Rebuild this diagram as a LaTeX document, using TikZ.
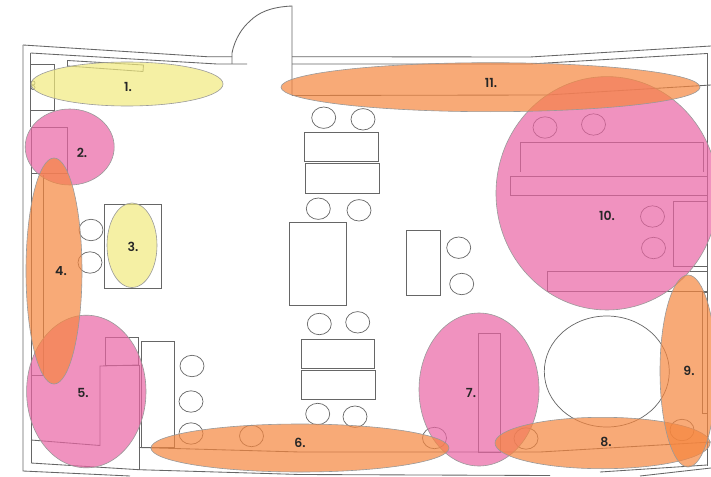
\documentclass[tikz,border=0pt]{standalone}
\usepackage{fontspec}
\setmainfont{Poppins SemiBold}
\definecolor{zyellow}{HTML}{F1EA7E}
\definecolor{zorange}{HTML}{F6863E}
\definecolor{zpink}{HTML}{EA65A4}
\definecolor{zline}{HTML}{666666}
\definecolor{zedge}{HTML}{999999}
\tikzset{
 x=1pt,y=-1pt,
 wall/.style={draw=zline,line width=0.85pt},
 seat/.style={draw=zline,line width=0.7pt,fill=none},
 furn/.style={draw=zline,line width=0.85pt,fill=none},
 zone/.style={draw=zedge,line width=0.6pt,fill opacity=0.7},
 zy/.style={zone,fill=zyellow},
 zo/.style={zone,fill=zorange},
 zp/.style={zone,fill=zpink},
 zlabel/.style={font=\fontsize{12.5}{14}\selectfont,text=black!85,inner sep=0pt}
}
\newcommand{\seatat}[2]{\draw[seat] (#1,#2) ellipse [x radius=12,y radius=10.7];}
\begin{document}
\begin{tikzpicture}
\useasboundingbox (0,0) rectangle (711,476);
\fill[white] (0,0) rectangle (711,476);
% door
\draw[wall] (232,64) -- (232,53) .. controls (235,38) and (243,27) .. (250,21) .. controls (258,13) and (270,7) .. (292,6) -- (292,95.5);
% outer and inner walls
\draw[wall] (23,45) -- (207,56.7) -- (232,56.7);
\draw[wall] (30.5,53) -- (217,64) -- (247,64);
\draw[wall] (292,56.7) -- (530,57) -- (711,46);
\draw[wall] (292,64) -- (530,64) -- (707,53.5);
\draw[wall] (292,95.5) -- (547,95) -- (711,85);
\draw[wall] (707,53.5) -- (707,466);
\draw[wall] (23,45) -- (23,471) -- (130,476);
\draw[wall] (31,463) -- (139,469.7) -- (300,474.5) -- (550,475.5);
\draw[wall] (600,472) -- (707,465);
\draw[wall] (640,476) -- (711,468);
\draw[wall] (139,447.5) -- (300,452) -- (540,452) -- (711,442);
% left furniture
\draw[wall] (30.5,53) -- (30.5,127);
\draw[wall] (30,64.5) rectangle (54,110.5);
\draw[wall] (67.5,67) -- (67.5,60.5) -- (143.5,65) -- (143,71.5) -- (67.5,66);
\draw[seat] (33,83) circle (2); \draw[seat] (33,87.5) circle (2);
\draw[wall] (31,127) rectangle (67,173.5);
\draw[wall] (31,173.5) -- (31,463);
\draw[wall] (43,175) -- (43,375) -- (31,375);
\draw[wall] (31,440) -- (100,445.5) -- (100,366) -- (139,365);
\draw[wall] (105,337) rectangle (138,365);
\draw[wall] (139,365) -- (139,469.7);
\draw[wall] (141,341) rectangle (174,447);
% room 10
\draw[furn] (520,172) -- (520,142) -- (703,142) -- (703,172);
\draw[furn] (510,176) rectangle (707,195);
\draw[furn] (673,201) rectangle (707,266);
\draw[furn] (547,291.7) -- (547,271.7) -- (707,271.7);
\draw[furn] (547,291.7) -- (707,291.7);
% right
\draw[furn] (702.7,292) rectangle (707,413);
\draw[seat] (606.8,371.5) ellipse [x radius=62.5,y radius=55.5];
\draw[furn] (478.5,333) rectangle (500.5,452);
% centre
\draw[furn] (304.7,132) rectangle (378.7,161.7);
\draw[furn] (305.3,163.5) rectangle (379,193);
\draw[furn] (289,222) rectangle (346.5,305.5);
\draw[furn] (406.5,230) rectangle (440.5,295);
\draw[furn] (301,339) rectangle (374.5,368);
\draw[furn] (301.5,370) rectangle (375,399.5);
\draw[furn] (104.5,204.5) rectangle (161.5,288);
\seatat{323.7}{117.7}\seatat{363}{119.3}
\seatat{318.3}{208.7}\seatat{359}{210.3}
\seatat{458.7}{247.7}\seatat{461.7}{284}
\seatat{319.3}{324}\seatat{357.7}{322.3}
\seatat{317.7}{414}\seatat{355}{416.7}
\seatat{91}{230}\seatat{90}{262.5}
\seatat{192}{366}\seatat{191}{401.5}\seatat{191}{433.5}
\seatat{251.5}{436}\seatat{434.5}{438}\seatat{526}{438.5}
\seatat{682}{430}
\seatat{545}{127.5}\seatat{593.5}{124.5}
\seatat{652.5}{216.5}\seatat{653.5}{248}
% zones
\draw[zp] (69.7,147) ellipse [x radius=44.5,y radius=38];
\draw[zp] (86.3,391.5) ellipse [x radius=59.7,y radius=76.3];
\draw[zp] (479,389.5) ellipse [x radius=60,y radius=76.5];
\draw[zp] (607,193.3) ellipse [x radius=111,y radius=116.7];
\draw[zy] (127,84) ellipse [x radius=96,y radius=22];
\draw[zy] (132,245.3) ellipse [x radius=25,y radius=42.3];
\draw[zo] (54,271) ellipse [x radius=28,y radius=113];
\draw[zo] (300,448) ellipse [x radius=149,y radius=24];
\draw[zo] (602.5,443) ellipse [x radius=107.5,y radius=25.7];
\draw[zo] (688,371) ellipse [x radius=28,y radius=96];
\draw[zo] (490.5,87.2) ellipse [x radius=209.5,y radius=24.5];
% labels
\node[zlabel] (l1) at (128,87) {1.};
\node[zlabel] (l2) at (82,153) {2.};
\node[zlabel] (l3) at (133,247) {3.};
\node[zlabel] (l4) at (61,271) {4.};
\node[zlabel] (l5) at (83,393) {5.};
\node[zlabel] (l6) at (300,443) {6.};
\node[zlabel] (l7) at (471,393) {7.};
\node[zlabel] (l8) at (606,442) {8.};
\node[zlabel] (l9) at (689,371) {9.};
\node[zlabel] (l10) at (607,216) {10.};
\node[zlabel] (l11) at (491,83) {11.};
\end{tikzpicture}
\end{document}
